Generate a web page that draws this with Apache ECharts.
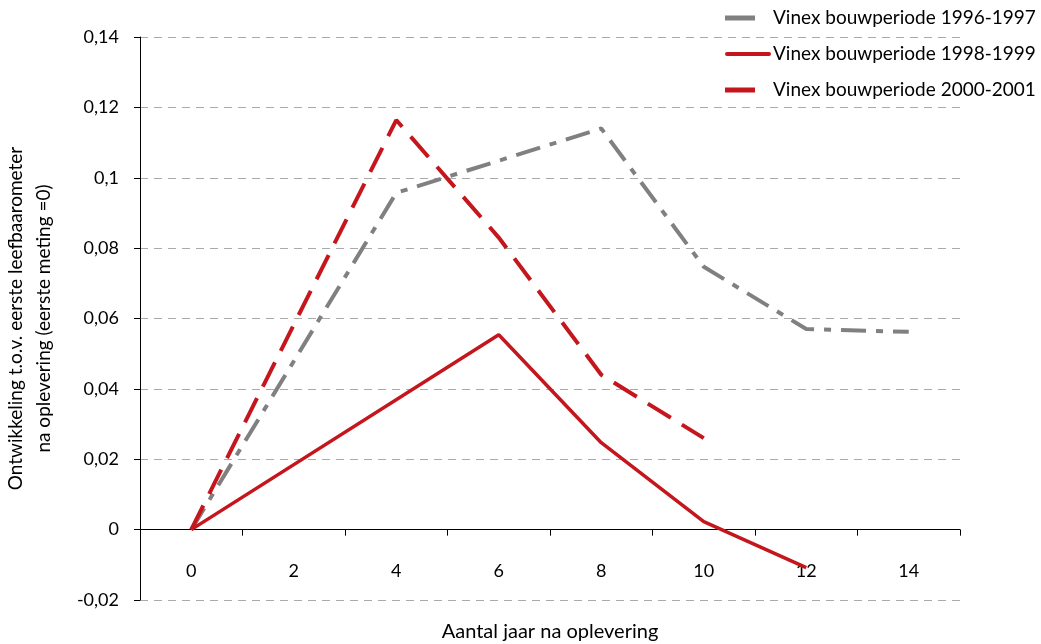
<!DOCTYPE html>
<html>
<head>
<meta charset="utf-8">
<script src="https://cdn.jsdelivr.net/npm/echarts@6/dist/echarts.min.js"></script>
<style>
html,body{margin:0;padding:0;background:#fff;}
#chart{width:1041px;height:644px;}
</style>
</head>
<body>
<div id="chart"></div>
<script>
var categories = ['0', '2', '4', '6', '8', '10', '12', '14'];
var seriesNames = ['Vinex bouwperiode 1996-1997', 'Vinex bouwperiode 1998-1999', 'Vinex bouwperiode 2000-2001'];
var vinex9697 = [0, null, 0.0957, null, 0.114, 0.0747, 0.057, 0.0562];
var vinex9899 = [0, null, null, 0.0554, 0.0247, 0.0023, -0.0108, null];
var vinex0001 = [0, null, 0.1164, 0.083, 0.044, 0.026, null, null];
var yTicks = { min: -0.02, max: 0.14, interval: 0.02 };
var xAxisTitle = 'Aantal jaar na oplevering';
var yAxisTitle = 'Ontwikkeling t.o.v. eerste leefbaarometer\nna oplevering (eerste meting =0)';

var FONT = 'Lato';
var GRAY = '#808080';
var RED = '#C4161C';

// legend drawn as graphic (icon + text), names taken from seriesNames
var legendColors = [GRAY, RED, RED];
var legendGraphics = [];
for (var i = 0; i < seriesNames.length; i++) {
  var cy = 18 + i * 36;
  if (i === 1) {
    legendGraphics.push({ type: 'line', shape: { x1: 727, y1: cy, x2: 769, y2: cy },
      style: { stroke: legendColors[i], lineWidth: 4, lineCap: 'round' } });
  } else {
    legendGraphics.push({ type: 'rect', shape: { x: 725, y: cy - 2.5, width: 30, height: 5 },
      style: { fill: legendColors[i] } });
  }
  legendGraphics.push({ type: 'text', x: 773, y: cy,
    style: { text: seriesNames[i], fill: '#000', font: '19px ' + FONT, textVerticalAlign: 'middle', verticalAlign: 'middle' } });
}

var chart = echarts.init(document.getElementById('chart'), null, { renderer: 'canvas' });
chart.setOption({
  animation: false,
  backgroundColor: '#ffffff',
  textStyle: { fontFamily: FONT, color: '#000' },
  grid: { left: 140, right: 81, top: 37, bottom: 44, containLabel: false, outerBoundsMode: 'none' },
  graphic: legendGraphics,
  xAxis: {
    type: 'category',
    data: categories,
    boundaryGap: true,
    axisLine: { onZero: true, lineStyle: { color: '#000', width: 1 } },
    axisTick: { show: true, inside: false, length: 6, alignWithLabel: false, lineStyle: { color: '#000' } },
    axisLabel: { margin: -38, fontFamily: FONT, fontSize: 18, color: '#000' },
    splitLine: { show: false },
    name: xAxisTitle,
    nameLocation: 'middle',
    nameGap: 22,
    nameTextStyle: { fontFamily: FONT, fontSize: 20, color: '#000' }
  },
  yAxis: {
    type: 'value',
    min: yTicks.min,
    max: yTicks.max,
    interval: yTicks.interval,
    axisLine: { show: true, lineStyle: { color: '#000', width: 1 } },
    axisTick: { show: true, inside: false, length: 6, lineStyle: { color: '#000' } },
    axisLabel: {
      margin: 21, fontFamily: FONT, fontSize: 18, color: '#000',
      formatter: function (v) { return String(+v.toFixed(2)).replace('.', ','); }
    },
    splitLine: { show: true, lineStyle: { color: '#aaaaaa', type: [8, 6], width: 1 } },
    name: yAxisTitle,
    nameLocation: 'middle',
    nameRotate: 90,
    nameGap: 82,
    nameTextStyle: { fontFamily: FONT, fontSize: 19, color: '#000', lineHeight: 28, align: 'center' }
  },
  series: [
    {
      name: seriesNames[0], type: 'line', data: vinex9697, connectNulls: true,
      showSymbol: false, symbol: 'none', color: GRAY, z: 2,
      lineStyle: { color: GRAY, width: 4, type: [25, 10, 7, 10] }
    },
    {
      name: seriesNames[1], type: 'line', data: vinex9899, connectNulls: true,
      showSymbol: false, symbol: 'none', color: RED, z: 3,
      lineStyle: { color: RED, width: 3.5 }
    },
    {
      name: seriesNames[2], type: 'line', data: vinex0001, connectNulls: true,
      showSymbol: false, symbol: 'none', color: RED, z: 4,
      lineStyle: { color: RED, width: 4, type: [27, 13] }
    }
  ]
});
</script>
</body>
</html>
